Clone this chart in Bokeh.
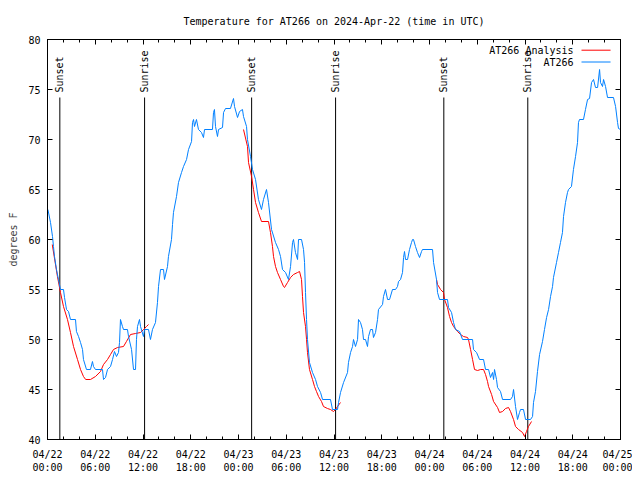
import numpy as np
import pandas as pd
from bokeh.plotting import figure
from bokeh.models import (FixedTicker, DatetimeTickFormatter, DatetimeAxis, LinearAxis,
                          Range1d, CustomJSTickFormatter)
from bokeh.core.properties import value
from bokeh.embed import file_html
from bokeh.resources import INLINE

# ---------------- data ----------------
start = pd.Timestamp("2024-04-22 00:00")

obs_hours = [0.05, 0.38, 0.63, 0.75, 0.88, 1.13, 1.38, 1.63, 2.01, 2.14, 2.39, 2.64, 2.89, 3.52, 3.64,
             3.90, 4.15, 4.40, 4.52, 4.90, 5.40, 5.65, 5.78, 6.03, 6.91, 7.04, 7.29, 7.54, 7.92, 8.17,
             8.42, 8.67, 8.92, 9.05, 9.17, 9.42, 9.55, 10.05, 10.18, 10.56, 10.81, 11.06, 11.18, 11.31,
             11.56, 11.69, 12.06, 12.19, 12.69, 12.94, 13.19, 13.57, 13.82, 13.95, 14.20, 14.58, 14.70,
             15.08, 15.20, 15.58, 15.71, 15.83, 16.21, 16.46, 16.84, 17.09, 17.47, 17.72, 18.10, 18.22,
             18.35, 18.47, 18.72, 18.97, 19.35, 19.60, 19.73, 20.73, 20.86, 20.98, 21.11, 21.36, 21.49,
             21.99, 22.12, 22.37, 22.99, 23.37, 23.50, 23.88, 24.13, 24.50, 24.63, 25.01, 25.13, 25.51,
             25.76, 26.14, 26.51, 26.89, 27.14, 27.52, 27.77, 28.15, 28.65, 29.03, 29.28, 29.53, 29.91,
             30.28, 30.54, 30.79, 30.91, 31.16, 31.42, 31.54, 31.92, 32.17, 32.30, 32.42, 32.55, 32.67,
             32.92, 33.30, 33.68, 33.93, 34.31, 34.56, 35.56, 35.81, 36.44, 36.57, 36.82, 37.20, 37.70,
             37.82, 38.08, 38.33, 38.45, 38.70, 38.96, 39.08, 39.33, 39.58, 39.71, 39.96, 40.21, 40.34,
             40.59, 40.84, 40.96, 41.22, 41.47, 41.59, 42.10, 42.22, 42.47, 42.73, 42.98, 43.35, 43.73,
             43.98, 44.11, 44.36, 44.61, 44.74, 44.86, 44.99, 45.24, 45.49, 45.74, 45.87, 45.99, 46.24,
             46.49, 46.75, 47.00, 47.12, 48.38, 48.51, 48.88, 49.01, 49.26, 50.26, 50.39, 50.77, 51.02,
             51.27, 51.77, 52.15, 53.41, 53.53, 53.91, 54.29, 54.79, 55.04, 55.42, 55.67, 55.92, 56.05,
             56.17, 56.42, 56.55, 56.92, 57.18, 58.18, 58.43, 58.56, 58.81, 59.06, 59.31, 59.44, 59.81,
             60.07, 60.69, 60.95, 61.07, 61.32, 61.57, 61.83, 62.20, 62.45, 62.71, 62.96, 63.21, 63.46,
             63.58, 63.96, 64.21, 64.46, 64.71, 64.84, 65.09, 65.34, 65.47, 65.84, 66.09, 66.35, 66.60,
             66.72, 66.85, 67.35, 67.60, 67.86, 68.11, 68.36, 68.61, 68.86, 69.12, 69.37, 69.49, 69.74,
             69.87, 70.12, 70.37, 71.12, 71.38, 71.63, 71.75, 72.00]
obs_temp = [63, 61.7, 60.3, 59.3, 58.3, 57, 56, 55, 55, 54.2, 53, 52.8, 52, 52, 50.8,
            50.3, 49.7, 49, 48, 47, 47, 47.8, 47.3, 47, 47, 46, 46.2, 47, 47.3, 48,
            48.8, 48.3, 48.7, 49.7, 52, 51.3, 51, 51, 50.3, 49, 47, 47, 50, 51.3,
            52, 51.3, 50.3, 51, 51, 50, 51, 51.7, 53.7, 55.3, 57, 57, 56,
            57.3, 58.3, 60, 61.5, 62.7, 64.3, 65.7, 66.7, 67.3, 68, 69, 69.8, 71.7,
            72, 71.3, 72, 71, 70.7, 70.2, 71, 71, 72.7, 73, 71.3, 70.3, 71,
            71.2, 72.7, 73.1, 73.1, 74.1, 73.3, 72.2, 72.8, 73, 72.3, 71.3, 70, 68.3,
            67, 66, 64, 63, 64, 65, 63.7, 61, 59.7, 59, 58.3, 57, 56.7,
            56, 57.3, 59.7, 60, 58.7, 58, 60, 60, 59, 57.7, 54.7, 52, 50,
            47.7, 46.7, 46, 45.3, 44.7, 44, 44, 43, 43, 43.7, 44.7, 45.7, 46.7,
            47.7, 48.7, 49.3, 50, 49.3, 50, 52, 51.7, 51, 50, 50, 49.3, 50.3,
            51, 51, 50.2, 50.7, 52, 53, 53.5, 54.3, 55, 54, 54, 55, 55,
            55.3, 55.8, 56, 56.7, 58.2, 58.8, 58, 58, 59, 59.7, 60, 60, 59.3,
            58.7, 58.2, 58.8, 59, 59, 57.7, 56, 54.7, 54, 54, 53.2, 52.7, 51.7,
            51, 50.8, 50, 50, 49, 48.7, 48, 48, 47, 47, 46.2, 46.7, 46,
            47, 46, 45.2, 44.8, 44, 44, 44.3, 45, 43.3, 42, 42.7, 43, 43,
            42, 42, 42.3, 43.7, 44.8, 46.8, 48.5, 49.8, 51, 52.2, 53, 54.3, 55.3,
            56.2, 57.7, 58.7, 59.7, 60.7, 62.3, 63.7, 64.7, 65, 65.3, 67, 68.3, 69.7,
            71.7, 72, 72, 73, 74, 74.1, 75.7, 76, 75.2, 75.2, 77, 75.7, 75.3,
            76, 75.3, 74.2, 74.2, 73.3, 71.7, 71.1, 71]

ana1_hours = [0.60, 1.25, 1.63, 2.01, 2.51, 2.89, 3.27, 3.77, 4.15, 4.52, 4.80, 5.40, 6.03, 6.66,
              7.04, 7.54, 7.92, 8.29, 8.80, 9.55, 9.92, 10.43, 11.06, 11.69, 12.06, 12.44, 12.69]
ana1_temp = [59.5, 56.3, 54.7, 53.3, 52, 50.7, 49.3, 48, 47, 46.3, 46, 46, 46.3, 46.8,
             47.5, 48, 48.5, 49, 49.2, 49.3, 49.8, 50.5, 50.6, 50.7, 51, 51.3, 51.5]
ana2_hours = [24.63, 25.13, 25.26, 25.64, 25.89, 26.14, 26.51, 26.89, 27.77, 28.02, 28.27, 28.40,
              28.65, 28.90, 29.28, 29.66, 29.78, 30.16, 30.54, 30.91, 31.42, 31.67, 31.92, 32.04,
              32.17, 32.42, 32.55, 32.67, 32.92, 33.30, 33.55, 33.80, 34.06, 34.43, 34.68, 35.18,
              35.56, 35.94, 36.19, 36.44, 36.82]
ana2_temp = [71, 69.3, 67.7, 66.3, 65, 63.7, 62.7, 61.8, 61.8, 60.7, 59.3, 58.3,
             57.3, 56.7, 56, 55.3, 55.2, 55.7, 56.2, 56.5, 56.7, 56.8, 56, 54.3,
             52.7, 51.3, 50, 48.7, 47, 46, 45.3, 44.8, 44.3, 43.8, 43.3, 43.1,
             43, 42.8, 43, 43.3, 43.7]
ana3_hours = [48.88, 49.01, 49.39, 49.76, 49.89, 50.26, 50.52, 50.77, 51.02, 51.52, 51.90, 52.28,
              52.78, 52.90, 53.16, 53.41, 53.66, 54.04, 54.42, 54.79, 55.04, 55.29, 55.42, 55.80,
              56.05, 56.55, 56.80, 57.18, 57.55, 57.93, 58.18, 58.56, 58.81, 59.19, 59.69, 59.94,
              60.19, 60.44, 60.82]
ana3_temp = [56, 55.5, 55, 54.7, 54, 53.2, 52.3, 51.7, 51.3, 50.8, 50.5, 50.3,
             50.2, 50, 49, 48, 47, 46.9, 47, 47, 46.5, 45.8, 45.3, 44.5,
             43.8, 43.2, 42.7, 42.8, 43.1, 43.2, 42.8, 42, 41.3, 41, 40.7, 40.3,
             40.8, 41.3, 41.8]

sunset_hours = [1.55, 25.65, 49.8]
sunrise_hours = [12.2, 36.2, 60.35]

y_ticks = [40, 45, 50, 55, 60, 65, 70, 75, 80]
x_major_hours = list(range(0, 73, 6))
x_minor_hours = list(range(0, 73, 2))

series_names = ["AT266 Analysis", "AT266"]
title_text = "Temperature for AT266 on 2024-Apr-22 (time in UTC)"

# ---------------- helpers ----------------
t0_ms = start.value / 1e6


def to_ms(hours):
    return [t0_ms + h * 3600000.0 for h in hours]


FONT = "DejaVu Sans Mono"
FS = "10px"
BLUE = "#0080ff"
RED = "#ff0000"

p = figure(x_axis_type="datetime", frame_width=573, frame_height=400,
           min_border_left=47, min_border_right=12, min_border_top=39, min_border_bottom=32,
           output_backend="svg", toolbar_location=None,
           x_range=Range1d(to_ms([0])[0], to_ms([72])[0]), y_range=Range1d(40, 80),
           title=title_text)

p.title.text_font = FONT
p.title.text_font_size = FS
p.title.text_font_style = "normal"
p.title.align = "center"
p.title.text_color = "black"
p.title.standoff = 26

p.grid.visible = False
p.outline_line_color = "black"
p.outline_line_width = 1
p.background_fill_color = "white"
p.border_fill_color = "white"

xt = FixedTicker(ticks=to_ms(x_major_hours), minor_ticks=to_ms(x_minor_hours))
fmt_str = "%m/%d\n%H:%M"
xfmt = DatetimeTickFormatter(microseconds=fmt_str, milliseconds=fmt_str, seconds=fmt_str,
                             minsec=fmt_str, minutes=fmt_str, hourmin=fmt_str, hours=fmt_str,
                             days=fmt_str, months=fmt_str, years=fmt_str)
yt = FixedTicker(ticks=y_ticks)

xa = p.xaxis[0]
xa.ticker = xt
xa.formatter = xfmt
ya = p.yaxis[0]
ya.ticker = yt
ya.axis_label = "degrees F"

for ax in (xa, ya):
    ax.major_tick_in = 5
    ax.major_tick_out = 0
    ax.minor_tick_in = 3
    ax.minor_tick_out = 0
    ax.major_label_text_font = FONT
    ax.major_label_text_font_size = FS
    ax.major_label_text_color = "black"
    ax.axis_line_color = "black"
    ax.major_tick_line_color = "black"
    ax.minor_tick_line_color = "black"
    ax.axis_label_text_font = FONT
    ax.axis_label_text_font_size = FS
    ax.axis_label_text_font_style = "normal"
ya.minor_tick_line_color = None
xa.major_label_standoff = 9
ya.major_label_standoff = 7
ya.axis_label_standoff = 6

# mirror axes (ticks only, no labels)
blank = CustomJSTickFormatter(code="return ''")
top = DatetimeAxis(ticker=xt, formatter=blank)
right = LinearAxis(ticker=yt, formatter=blank)
for ax in (top, right):
    ax.major_tick_in = 5
    ax.major_tick_out = 0
    ax.minor_tick_in = 3
    ax.minor_tick_out = 0
    ax.major_label_standoff = 0
    ax.axis_line_color = "black"
    ax.major_label_text_color = None
right.minor_tick_line_color = None
p.add_layout(top, "above")
p.add_layout(right, "right")

# sun lines + labels
sun_top = 74.2
label_y = 74.7
for hrs, name in ((sunset_hours, "Sunset"), (sunrise_hours, "Sunrise")):
    xs = to_ms(hrs)
    p.segment(x0=xs, y0=[40] * len(xs), x1=xs, y1=[sun_top] * len(xs),
              line_color="black", line_width=1)
    p.text(x=xs, y=[label_y] * len(xs), text=[name] * len(xs), angle=np.pi / 2,
           text_align="left", text_baseline="middle", text_font=value(FONT),
           text_font_size=value(FS), text_color="black")

# analysis (red) and observations (blue)
p.multi_line(xs=[to_ms(ana1_hours), to_ms(ana2_hours), to_ms(ana3_hours)],
             ys=[ana1_temp, ana2_temp, ana3_temp], line_color=RED, line_width=1)
p.line(x=to_ms(obs_hours), y=obs_temp, line_color=BLUE, line_width=1)

# legend (gnuplot style: text left, sample right)
leg_text_x = 66.1
leg_line_x0 = 67.1
leg_line_x1 = 70.75
leg_rows_y = [78.93, 77.75]
p.text(x=to_ms([leg_text_x] * 2), y=leg_rows_y, text=series_names,
       text_align="right", text_baseline="middle", text_font=value(FONT),
       text_font_size=value(FS), text_color="black")
p.segment(x0=to_ms([leg_line_x0] * 2), y0=leg_rows_y, x1=to_ms([leg_line_x1] * 2), y1=leg_rows_y,
          line_color=[RED, BLUE], line_width=1)

open("out.html", "w").write(file_html(p, INLINE))
